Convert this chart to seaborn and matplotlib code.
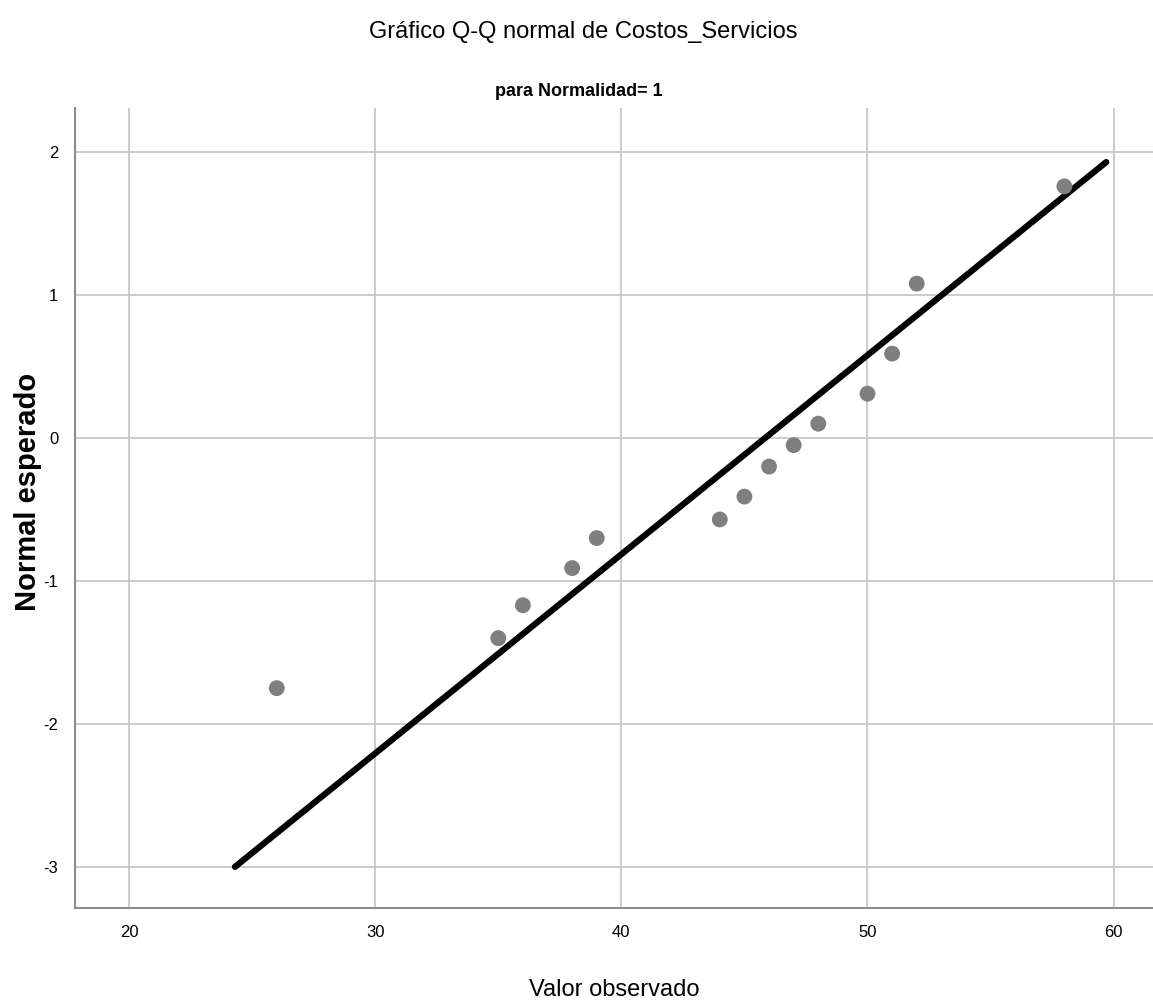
import matplotlib
matplotlib.use("Agg")
import matplotlib.pyplot as plt
import seaborn as sns
import pandas as pd

observed = [26, 35, 36, 38, 39, 44, 45, 46, 47, 48, 50, 51, 52, 58]
expected = [-1.75, -1.40, -1.17, -0.91, -0.70, -0.57, -0.41, -0.20, -0.05, 0.10, 0.31, 0.59, 1.08, 1.76]

# reference line endpoints
line_x = [24.3, 59.7]
line_y = [-3.0, 1.93]

xticks = [20, 30, 40, 50, 60]
yticks = [-3, -2, -1, 0, 1, 2]

sns.set_style("white")
plt.rcParams['font.family'] = ['Liberation Sans', 'DejaVu Sans']
plt.rcParams['text.color'] = "black"

df = pd.DataFrame({'observed': observed, 'expected': expected})

fig = plt.figure(figsize=(11.53, 10.07), dpi=100)
ax = fig.add_axes([0.065, 0.098, 0.935, 0.795])

ax.set_xlim(17.8, 61.6)
ax.set_ylim(-3.29, 2.31)
ax.set_xticks(xticks)
ax.set_yticks(yticks)
ax.grid(True, color="#c8c8c8", linewidth=1.3)
ax.set_axisbelow(True)

sns.lineplot(x=line_x, y=line_y, ax=ax, color="black", linewidth=4.5, zorder=3)
sns.scatterplot(data=df, x='observed', y='expected', ax=ax, color="#7f7f7f",
                s=130, edgecolor="none", zorder=4)

for side in ['top', 'right']:
    ax.spines[side].set_visible(False)
for side in ['left', 'bottom']:
    ax.spines[side].set_color("#8c8c8c")
    ax.spines[side].set_linewidth(1.5)

ax.tick_params(axis='both', length=0, labelsize=12, colors="black", pad=12)
ax.set_xticklabels([str(t) for t in xticks])
ax.set_yticklabels([str(t) for t in yticks])

ax.set_xlabel("Valor observado", fontsize=17, color="black")
ax.xaxis.set_label_coords(0.5, -0.088)
ax.set_ylabel("Normal esperado", fontsize=21, fontweight='bold', color="black")
ax.yaxis.set_label_coords(-0.031, 0.52)

fig.text(0.506, 0.968, "Gráfico Q-Q normal de Costos_Servicios", ha='center', va='center', fontsize=17)
fig.text(0.502, 0.909, "para Normalidad= 1", ha='center', va='center', fontsize=13, fontweight='bold')

fig.savefig("out.png", dpi=100, facecolor="white")
